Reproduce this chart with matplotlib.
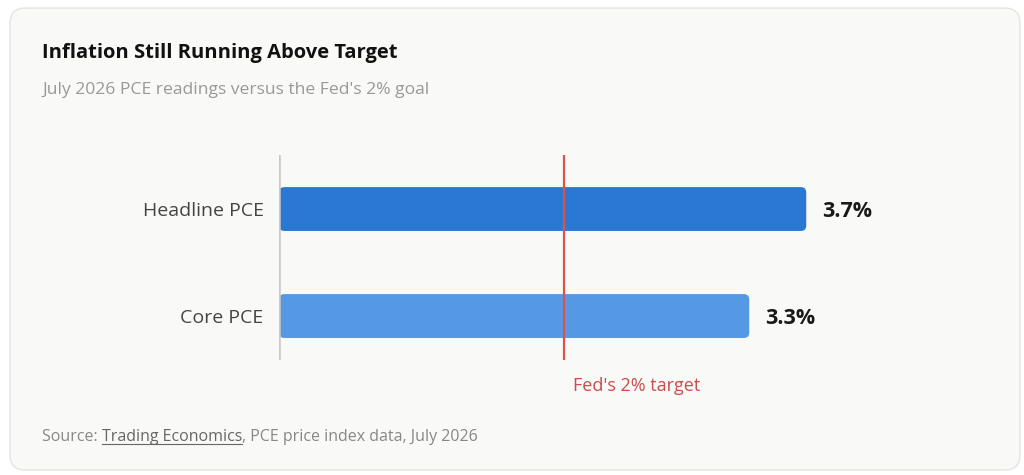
import matplotlib.pyplot as plt
from matplotlib.patches import FancyBboxPatch
from matplotlib.lines import Line2D

plt.rcParams['font.family'] = ['Open Sans', 'DejaVu Sans']

categories = ["Core PCE", "Headline PCE"]
values = [3.3, 3.7]
bar_colors = ["#5598e4", "#2b78d4"]
target = 2.0
target_label = "Fed's 2% target"
title = "Inflation Still Running Above Target"
subtitle = "July 2026 PCE readings versus the Fed's 2% goal"

W, H = 1024, 475
fig = plt.figure(figsize=(W / 100, H / 100), dpi=100)
fig.patch.set_facecolor("white")

# card background
card = FancyBboxPatch((10 / W, 1 - 470 / H), 1010 / W, 462 / H,
                      boxstyle="round,pad=0,rounding_size=0.015",
                      transform=fig.transFigure, facecolor="#f9f9f7",
                      edgecolor="#e4e4e2", linewidth=1, mutation_aspect=W / H,
                      zorder=-5)
fig.patches.append(card)

ax = fig.add_axes([279 / W, 1 - 360 / H, 684 / W, 205 / H])
ax.set_facecolor("none")
ax.set_xlim(0, 4.8)
ax.set_ylim(-0.411, 1.505)
ypos = list(range(len(categories)))

bars = ax.barh(ypos, values, height=0.41, color=bar_colors)
for bar, c in zip(bars, bar_colors):
    x0, y0 = bar.get_x(), bar.get_y()
    w, h = bar.get_width(), bar.get_height()
    bar.remove()
    ax.add_patch(FancyBboxPatch((x0, y0), w, h,
                                boxstyle="round,pad=0,rounding_size=0.038",
                                mutation_aspect=1.33, facecolor=c,
                                edgecolor="none", zorder=2))

for y, v in zip(ypos, values):
    ax.annotate(f"{v}%", (v, y), xytext=(11.5, -1.5), textcoords="offset points",
                va="center", ha="left", fontsize=15.5, fontweight="bold",
                color="#1a1a1a")

ax.axvline(0, color="#c8c8c6", linewidth=1.8, zorder=3)
ax.axvline(target, color="#d9534f", linewidth=1.6, zorder=4)
ax.annotate(target_label, (target, 0), xycoords=("data", "axes fraction"),
            xytext=(6.5, -19), textcoords="offset points", ha="left", va="center",
            fontsize=13, color="#cc4b4b")

ax.set_yticks(ypos, categories)
ax.tick_params(axis="y", length=0, pad=11, labelsize=14, labelcolor="#444444")
ax.set_xticks([])
for s in ax.spines.values():
    s.set_visible(False)

fig.text(42 / W, 1 - 53 / H, title, fontsize=14.5, fontweight="bold",
         color="#111111", va="center", ha="left")
fig.text(42 / W, 1 - 90 / H, subtitle, fontsize=12.6, color="#999999",
         va="center", ha="left")

# source line with underlined link text
fig.canvas.draw()
r = fig.canvas.get_renderer()
sy = 1 - 437 / H
t1 = fig.text(42 / W, sy, "Source: ", fontsize=11.5, color="#888888", va="center")
x = t1.get_window_extent(r).x1
t2 = fig.text(x / W, sy, "Trading Economics", fontsize=11.5, color="#666666", va="center")
e2 = t2.get_window_extent(r)
fig.add_artist(Line2D([e2.x0 / W, e2.x1 / W], [(e2.y0 + 1) / H] * 2,
                      color="#666666", linewidth=0.8))
fig.text(e2.x1 / W, sy, ", PCE price index data, July 2026", fontsize=11.5,
         color="#888888", va="center")

fig.savefig("out.png", dpi=100, facecolor="white")
